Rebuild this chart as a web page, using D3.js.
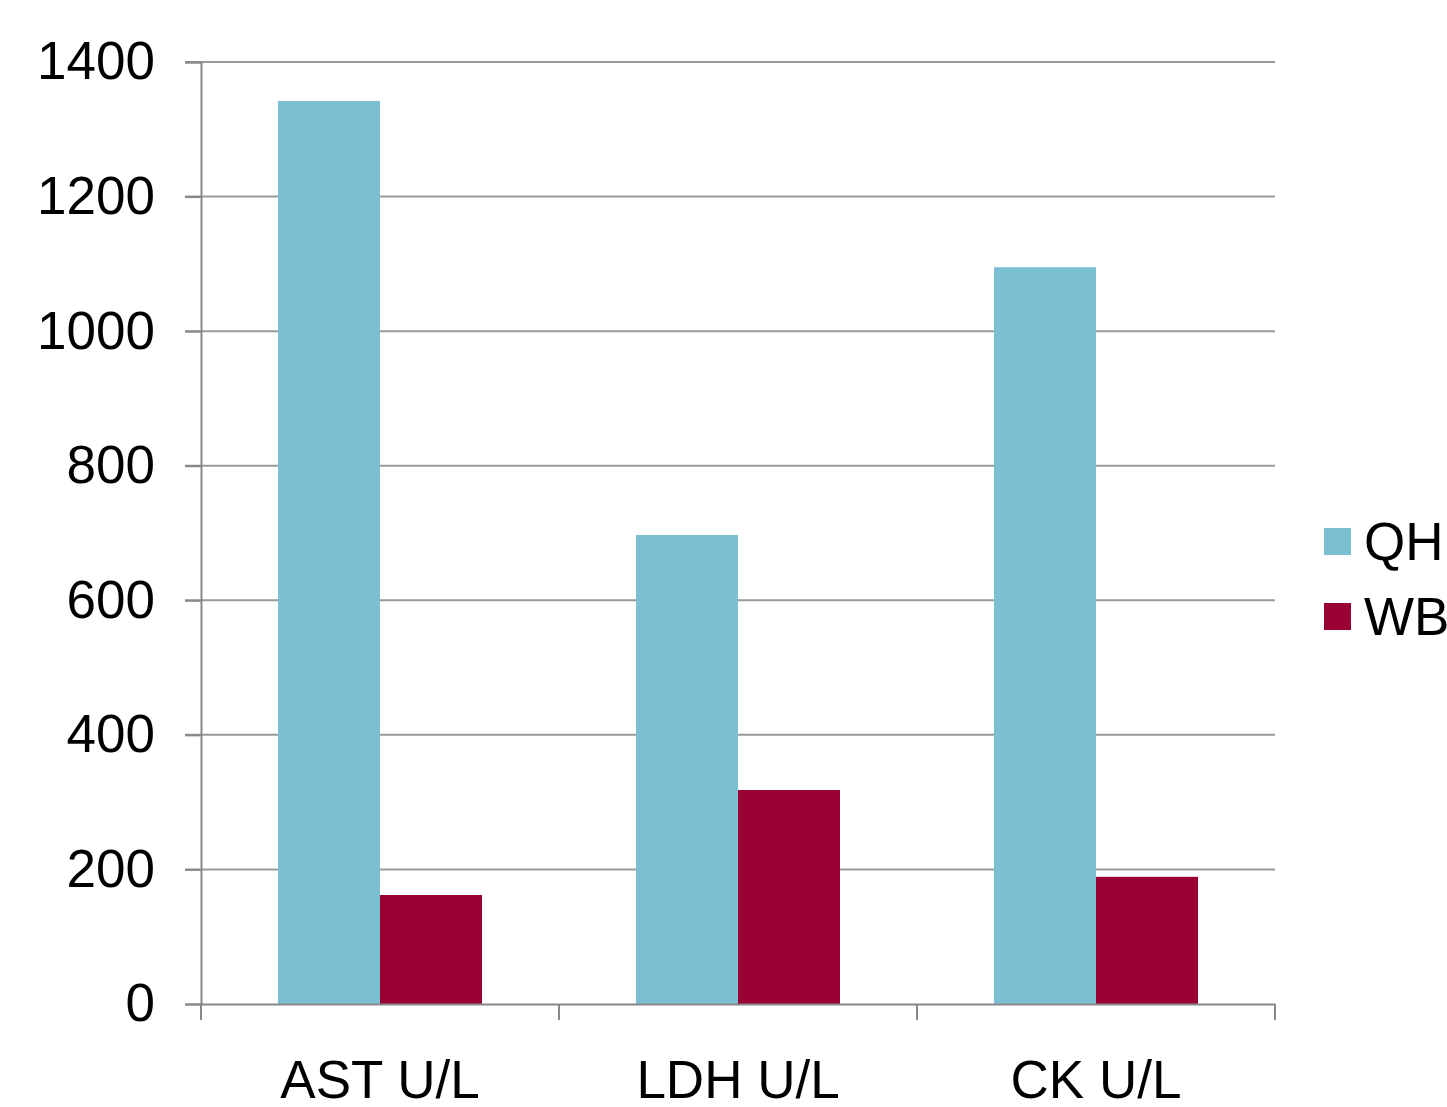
<!DOCTYPE html>
<html>
<head>
<meta charset="utf-8">
<script src="https://cdn.jsdelivr.net/npm/d3@7"></script>
<style>
  body { margin: 0; background: #fff; }
  svg { display: block; }
</style>
</head>
<body>
<div class="chart"></div>
<script>
const categories = ['AST U/L', 'LDH U/L', 'CK U/L']
const seriesNames = ['QH', 'WB']
const qhValues = [1342, 697, 1095]
const wbValues = [162, 318, 189]
const yTicks = [0, 200, 400, 600, 800, 1000, 1200, 1400]
const colors = ['#7BC0D2', '#990033']

const width = 1447
const height = 1107
const margin = { left: 201, right: 172, top: 62, bottom: 103 }
const fontFamily = '"Liberation Sans", Arial, sans-serif'
const fontSize = 53

const svg = d3.select('.chart').append('svg')
  .attr('width', width)
  .attr('height', height)
  .attr('font-family', fontFamily)

const x = d3.scaleBand()
  .domain(categories)
  .range([margin.left, width - margin.right])

const xInner = d3.scaleBand()
  .domain(seriesNames)
  .range([0, x.bandwidth()])
  .paddingOuter(0.755)

const y = d3.scaleLinear()
  .domain([0, 1400])
  .range([height - margin.bottom, margin.top])

// gridlines
svg.append('g')
  .selectAll('line')
  .data(yTicks.slice(1))
  .join('line')
  .attr('x1', margin.left - 16)
  .attr('x2', width - margin.right)
  .attr('y1', d => y(d))
  .attr('y2', d => y(d))
  .attr('stroke', '#999')
  .attr('stroke-width', 2)

// bars
const data = categories.map((c, i) => ({ cat: c, vals: [qhValues[i], wbValues[i]] }))
const groups = svg.append('g')
  .selectAll('g')
  .data(data)
  .join('g')
  .attr('transform', d => `translate(${x(d.cat)},0)`)

groups.selectAll('rect')
  .data(d => d.vals.map((v, j) => ({ name: seriesNames[j], v, j })))
  .join('rect')
  .attr('x', d => xInner(d.name))
  .attr('width', xInner.bandwidth())
  .attr('y', d => y(d.v))
  .attr('height', d => y(0) - y(d.v))
  .attr('fill', d => colors[d.j])

// y axis
const yAxis = svg.append('g')
  .attr('transform', `translate(${margin.left},0)`)
  .call(d3.axisLeft(y).tickValues(yTicks).tickFormat(d3.format('d')).tickSize(16).tickPadding(30))
yAxis.select('.domain').attr('stroke', '#888').attr('stroke-width', 2)
yAxis.selectAll('.tick line').attr('stroke', '#888').attr('stroke-width', 2)
yAxis.selectAll('.tick text')
  .attr('font-size', fontSize)
  .attr('font-family', fontFamily)
  .attr('fill', '#000')

// x axis
const xAxis = svg.append('g')
  .attr('transform', `translate(0,${y(0)})`)
  .call(d3.axisBottom(x).tickSize(0).tickPadding(56))
xAxis.select('.domain').attr('stroke', '#888').attr('stroke-width', 2)
xAxis.selectAll('.tick text')
  .attr('font-size', fontSize)
  .attr('font-family', fontFamily)
  .attr('fill', '#000')

// category separator ticks
const bounds = categories.map(c => x(c)).concat([x(categories[categories.length - 1]) + x.bandwidth()])
svg.append('g')
  .selectAll('line')
  .data(bounds)
  .join('line')
  .attr('x1', d => d)
  .attr('x2', d => d)
  .attr('y1', y(0))
  .attr('y2', y(0) + 16)
  .attr('stroke', '#888')
  .attr('stroke-width', 2)

// legend
const legend = svg.append('g')
  .selectAll('g')
  .data(seriesNames)
  .join('g')
  .attr('transform', (d, i) => `translate(1324,${528 + i * 75})`)
legend.append('rect')
  .attr('width', 27)
  .attr('height', 27)
  .attr('fill', (d, i) => colors[i])
legend.append('text')
  .attr('x', 40)
  .attr('y', 13)
  .attr('dy', '0.35em')
  .attr('font-size', fontSize)
  .attr('fill', '#000')
  .text(d => d)
</script>
</body>
</html>
